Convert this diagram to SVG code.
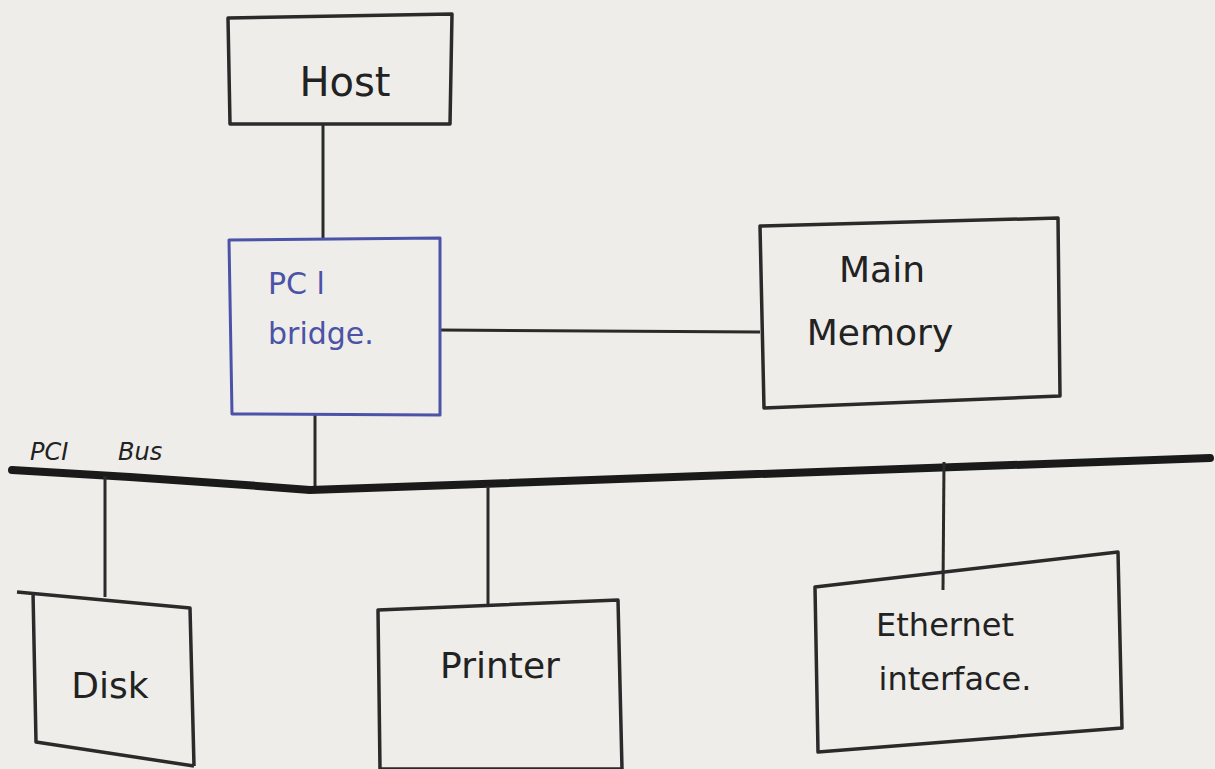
<svg xmlns="http://www.w3.org/2000/svg" width="1215" height="769" viewBox="0 0 1215 769">
<style>
.box{fill:none;stroke:#2a2a2a;stroke-width:3.5;stroke-linejoin:round}
.blue{fill:none;stroke:#4b52a8;stroke-width:3;stroke-linejoin:round}
.ln{fill:none;stroke:#2a2a2a;stroke-width:3}
.t{font-family:"DejaVu Sans",sans-serif;fill:#222}
.tb{font-family:"DejaVu Sans",sans-serif;fill:#4b52a8}
</style>
<rect width="1215" height="769" fill="#eeede9"/>
<g id="connectors">
<path class="ln" d="M323,124 L323,238"/>
<path class="ln" d="M440,330 L760,332"/>
<path class="ln" d="M315,415 L315,490"/>
<path d="M12,470 Q160,478 310,490 L1210,458" fill="none" stroke="#1a1a1a" stroke-width="8" stroke-linecap="round"/>
<path class="ln" d="M105,476 L105,597"/>
<path class="ln" d="M488,486 L488,606"/>
<path class="ln" d="M944,462 L943,590"/>
</g>
<g id="host">
<polygon class="box" points="228,18 452,14 450,124 230,124"/>
<text class="t" x="345" y="96" font-size="40" text-anchor="middle">Host</text>
</g>
<g id="pci-bridge">
<polygon class="blue" points="229,240 440,238 440,415 232,414"/>
<text class="tb" x="268" y="294" font-size="30">PC l</text>
<text class="tb" x="268" y="344" font-size="30">bridge.</text>
</g>
<g id="main-memory">
<polygon class="box" points="760,226 1058,218 1060,396 764,408"/>
<text class="t" x="882" y="282" font-size="36" text-anchor="middle">Main</text>
<text class="t" x="880" y="345" font-size="36" text-anchor="middle">Memory</text>
</g>
<g id="pci-bus-label">
<text class="t" font-size="24" font-style="italic" y="460"><tspan x="30">PCI</tspan><tspan x="118">Bus</tspan></text>
</g>
<g id="disk">
<path class="box" d="M17,592 L190,608 L194,766 M33,592 L36,742 L194,766"/>
<text class="t" x="110" y="698" font-size="36" text-anchor="middle">Disk</text>
</g>
<g id="printer">
<polygon class="box" points="378,610 618,600 622,769 380,769"/>
<text class="t" x="500" y="678" font-size="36" text-anchor="middle">Printer</text>
</g>
<g id="ethernet-interface">
<polygon class="box" points="815,587 1118,552 1122,728 818,752"/>
<text class="t" x="945" y="636" font-size="32" text-anchor="middle">Ethernet</text>
<text class="t" x="955" y="690" font-size="32" text-anchor="middle">interface.</text>
</g>
</svg>
